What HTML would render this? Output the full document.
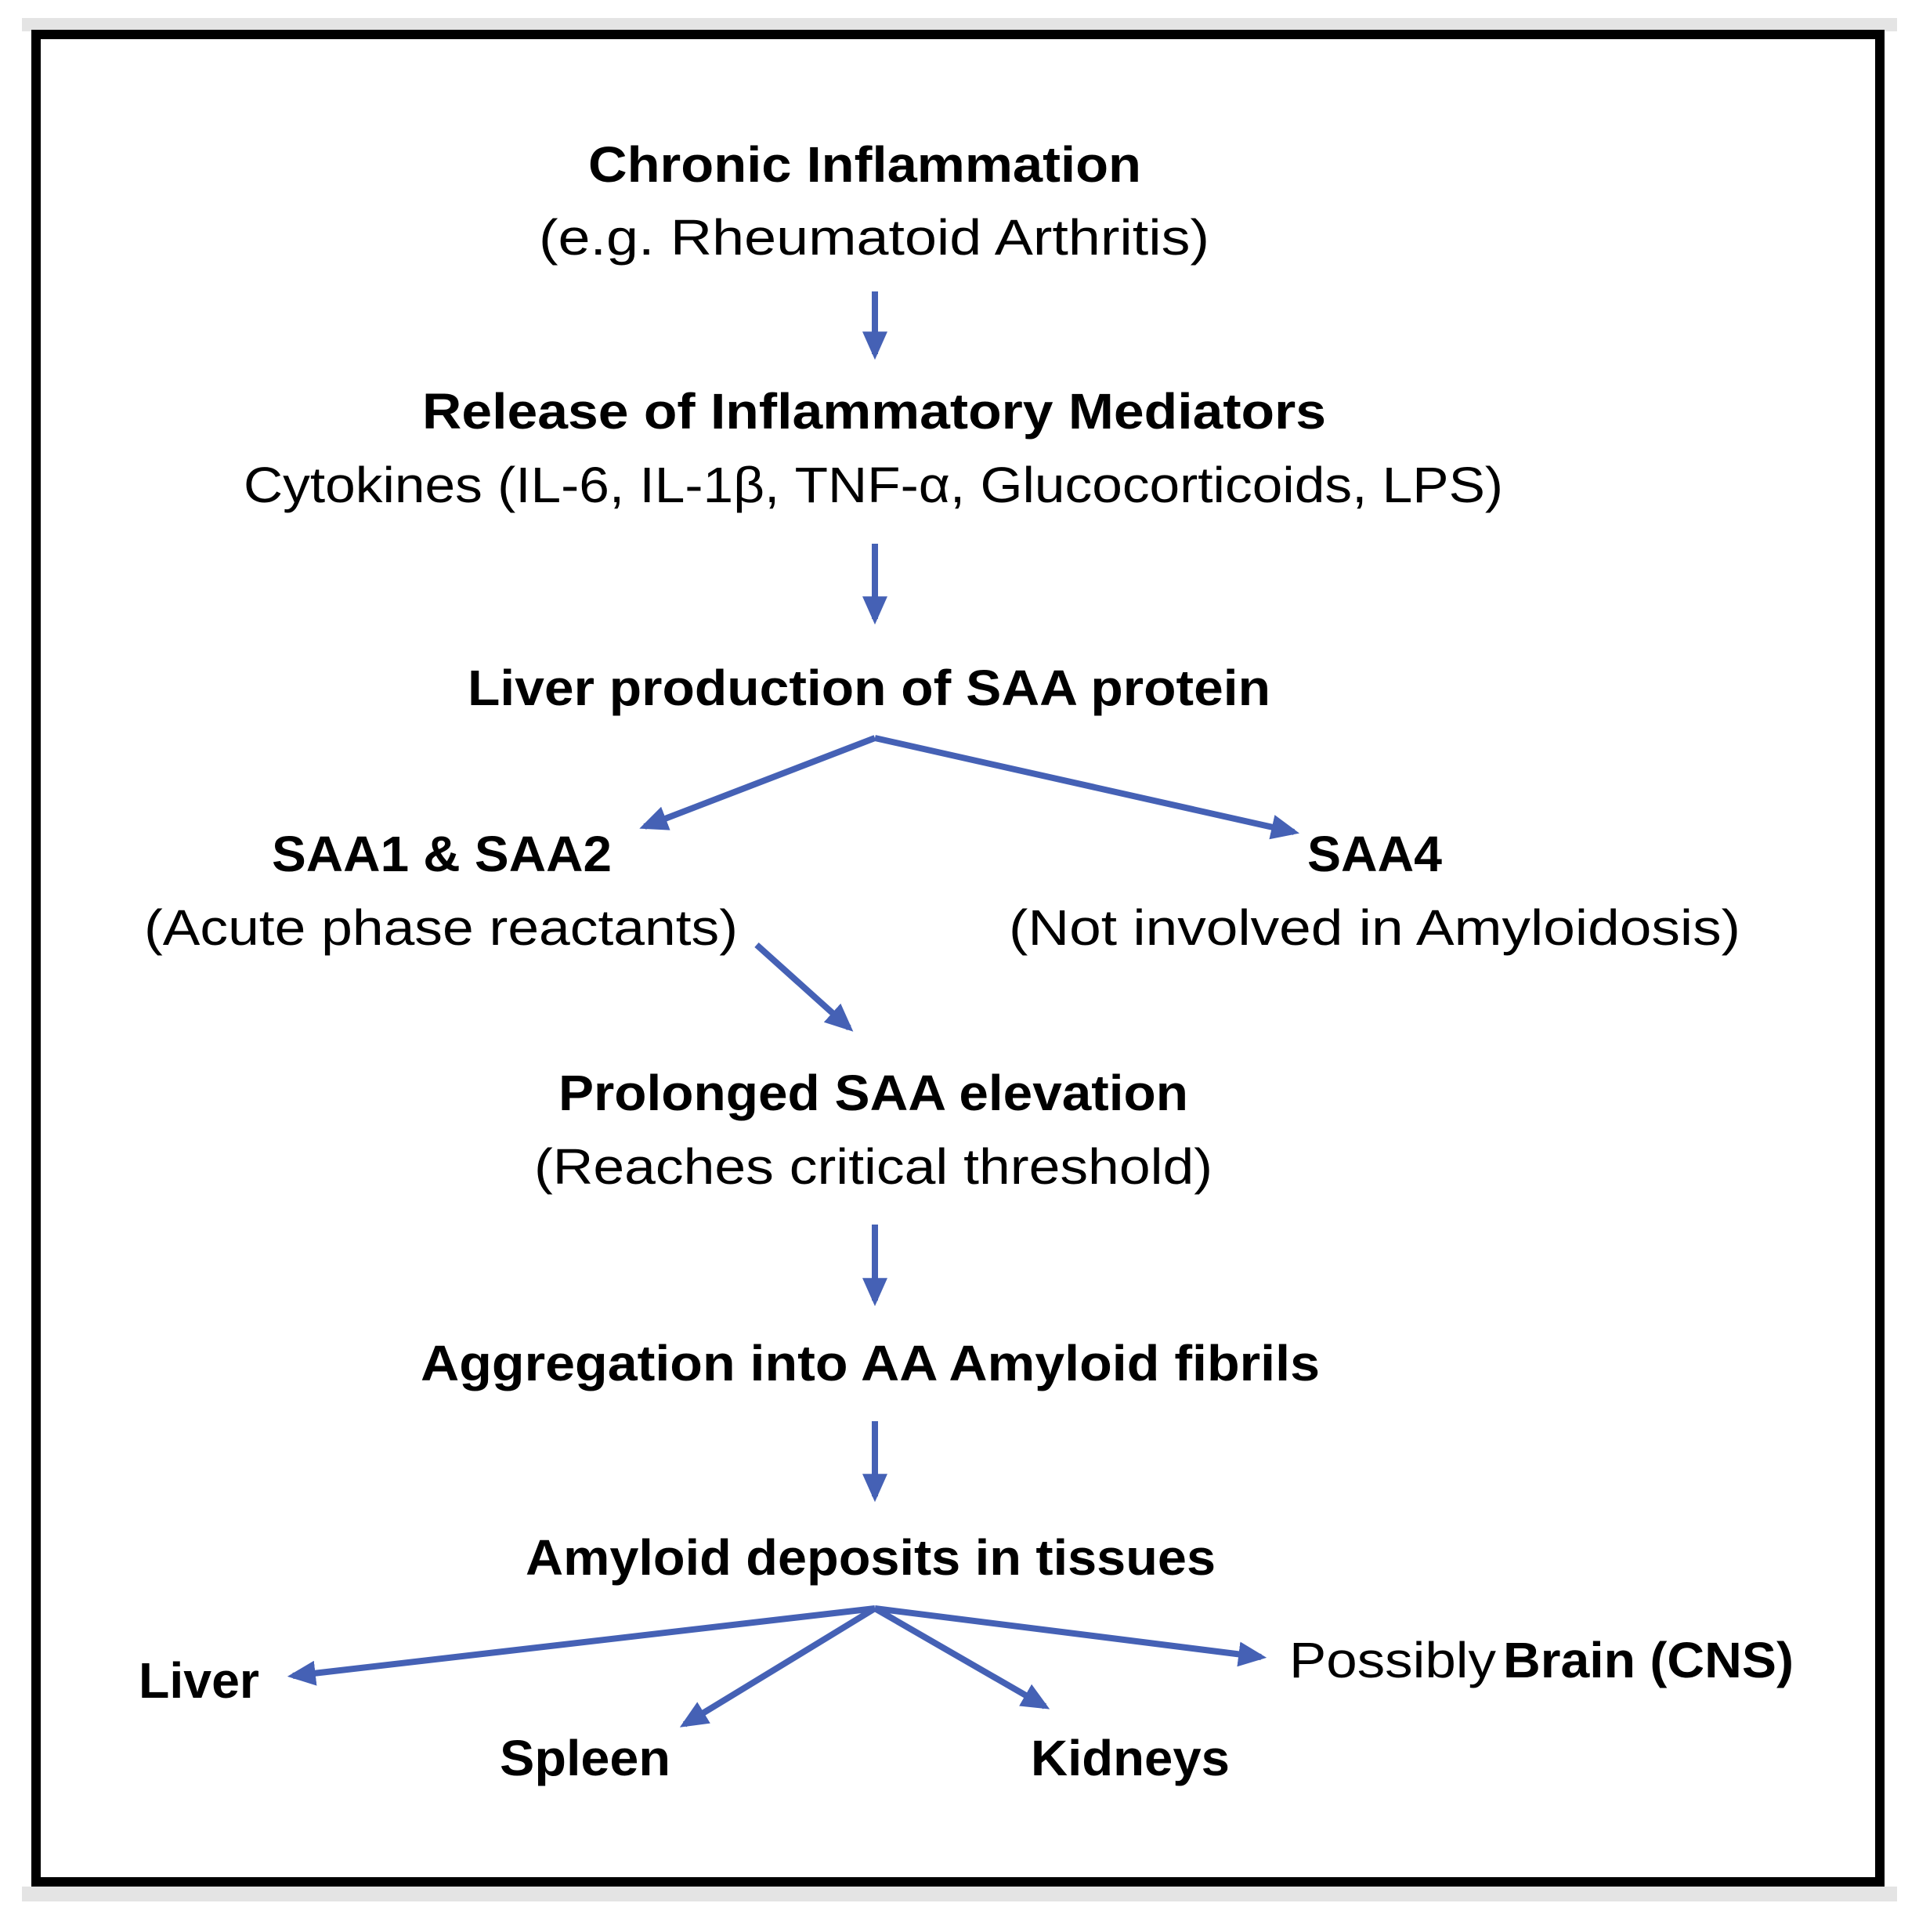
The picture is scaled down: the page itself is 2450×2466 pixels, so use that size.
<!DOCTYPE html>
<html><head><meta charset="utf-8"><style>
html,body{margin:0;padding:0;background:#fff;}
svg{display:block;}
text{font-family:"Liberation Sans",sans-serif;font-size:64px;fill:#000;}
.b{font-weight:bold;}
</style></head><body>
<svg width="2450" height="2466" viewBox="0 0 2450 2466" xmlns="http://www.w3.org/2000/svg">
<defs>
<marker id="ah" markerWidth="4.5" markerHeight="4" refX="3.6" refY="2" orient="auto" markerUnits="strokeWidth">
<path d="M0,0 L4.5,2 L0,4 Z" fill="#4561b5"/>
</marker>
</defs>
<rect x="0" y="0" width="2450" height="2466" fill="#fff"/>
<rect x="28" y="23" width="2394" height="17" fill="#e4e4e4"/>
<rect x="28" y="2408" width="2394" height="19" fill="#e4e4e4"/>
<rect x="46" y="44" width="2354" height="2358" fill="#fff" stroke="#000" stroke-width="12"/>

<g stroke="#4561b5" stroke-width="8" fill="none" marker-end="url(#ah)">
<line x1="1117" y1="372" x2="1117" y2="452"/>
<line x1="1117" y1="694" x2="1117" y2="790"/>
<polyline points="1117,942 823,1055" />
<line x1="1117" y1="942" x2="1652" y2="1062"/>
<line x1="966" y1="1206" x2="1084" y2="1312"/>
<line x1="1117" y1="1563" x2="1117" y2="1660"/>
<line x1="1117" y1="1814" x2="1117" y2="1910"/>
<line x1="1117" y1="2053" x2="374" y2="2139"/>
<line x1="1117" y1="2053" x2="874" y2="2201"/>
<line x1="1117" y1="2053" x2="1334" y2="2178"/>
<line x1="1117" y1="2053" x2="1610" y2="2115"/>
</g>

<text class="b" x="751" y="232" textLength="706" lengthAdjust="spacingAndGlyphs">Chronic Inflammation</text>
<text x="688" y="325" textLength="856" lengthAdjust="spacingAndGlyphs">(e.g. Rheumatoid Arthritis)</text>
<text class="b" x="539" y="547" textLength="1154" lengthAdjust="spacingAndGlyphs">Release of Inflammatory Mediators</text>
<text x="311" y="641" textLength="1608" lengthAdjust="spacingAndGlyphs">Cytokines (IL-6, IL-1β, TNF-α, Glucocorticoids, LPS)</text>
<text class="b" x="597" y="900" textLength="1025" lengthAdjust="spacingAndGlyphs">Liver production of SAA protein</text>
<text class="b" x="347" y="1112" textLength="434" lengthAdjust="spacingAndGlyphs">SAA1 &amp; SAA2</text>
<text x="184" y="1206" textLength="758" lengthAdjust="spacingAndGlyphs">(Acute phase reactants)</text>
<text class="b" x="1669" y="1112" textLength="172" lengthAdjust="spacingAndGlyphs">SAA4</text>
<text x="1288" y="1206" textLength="934" lengthAdjust="spacingAndGlyphs">(Not involved in Amyloidosis)</text>
<text class="b" x="713" y="1417" textLength="804" lengthAdjust="spacingAndGlyphs">Prolonged SAA elevation</text>
<text x="682" y="1511" textLength="866" lengthAdjust="spacingAndGlyphs">(Reaches critical threshold)</text>
<text class="b" x="537" y="1762" textLength="1148" lengthAdjust="spacingAndGlyphs">Aggregation into AA Amyloid fibrils</text>
<text class="b" x="671" y="2010" textLength="881" lengthAdjust="spacingAndGlyphs">Amyloid deposits in tissues</text>
<text class="b" x="177" y="2167" textLength="154" lengthAdjust="spacingAndGlyphs">Liver</text>
<text class="b" x="638" y="2266" textLength="218" lengthAdjust="spacingAndGlyphs">Spleen</text>
<text class="b" x="1316" y="2266" textLength="254" lengthAdjust="spacingAndGlyphs">Kidneys</text>
<text x="1646" y="2141" textLength="264" lengthAdjust="spacingAndGlyphs">Possibly</text>
<text class="b" x="1919" y="2141" textLength="371" lengthAdjust="spacingAndGlyphs">Brain (CNS)</text>
</svg>
</body></html>
